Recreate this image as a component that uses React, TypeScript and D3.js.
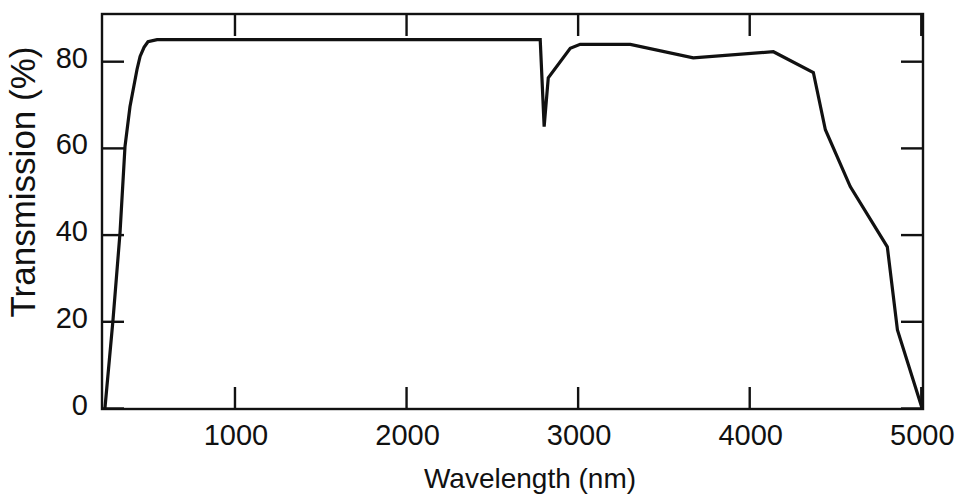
import React from "react";
import * as d3 from "d3";

const wavelength = [242, 289, 330, 359, 388, 429, 447, 470, 493, 546, 2779, 2802, 2826, 2954, 3012, 3304, 3671, 4138, 4371, 4441, 4586, 4802, 4861, 5005];
const transmission = [0, 20.4, 40.5, 60.4, 69.6, 78.2, 81.2, 83.3, 84.6, 85.1, 85.1, 65, 76.3, 83.1, 84, 84, 80.9, 82.3, 77.5, 64.3, 51.2, 37.3, 18.1, 0];
const xTicks = [1000, 2000, 3000, 4000, 5000];
const yTicks = [0, 20, 40, 60, 80];
const xTitle = "Wavelength (nm)";
const yTitle = "Transmission (%)";

const W = 960;
const H = 496;
const left = 102;
const right = 923;
const top = 14;
const bottom = 409;

export default function App() {
  const x = d3.scaleLinear().domain([225, 5010]).range([left, right]);
  const y = d3.scaleLinear().domain([0, 91]).range([408.5, top]);
  const data = wavelength.map((w, i) => [w, transmission[i]] as [number, number]);
  const line = d3
    .line<[number, number]>()
    .x((d) => x(d[0]))
    .y((d) => y(d[1]));
  const font = "'Liberation Sans', Arial, Helvetica, sans-serif";
  const tickLen = 22;
  const ink = "#111";
  return (
    <svg
      width={W}
      height={H}
      style={{ position: "absolute", left: 0, top: 0, background: "#fff" }}
      fontFamily={font}
    >
      <rect x={0} y={0} width={W} height={H} fill="#fff" />
      <path d={line(data) || ""} fill="none" stroke={ink} strokeWidth={3.2} strokeLinejoin="miter" />
      <rect
        x={left}
        y={top}
        width={right - left}
        height={bottom - top}
        fill="none"
        stroke={ink}
        strokeWidth={2.4}
      />
      {xTicks.map((t) => (
        <g key={"x" + t}>
          <line x1={x(t)} x2={x(t)} y1={bottom} y2={bottom - tickLen} stroke={ink} strokeWidth={2.4} />
          <line x1={x(t)} x2={x(t)} y1={top} y2={top + tickLen} stroke={ink} strokeWidth={2.4} />
          <text x={x(t) + 1} y={445} textAnchor="middle" fontSize={29} fill={ink}>
            {t}
          </text>
        </g>
      ))}
      {yTicks.map((t) => (
        <g key={"y" + t}>
          <line x1={left} x2={left + tickLen} y1={y(t)} y2={y(t)} stroke={ink} strokeWidth={2.4} />
          <line x1={right} x2={right - tickLen} y1={y(t)} y2={y(t)} stroke={ink} strokeWidth={2.4} />
          <text x={88} y={y(t) + 6} textAnchor="end" fontSize={29} fill={ink}>
            {t}
          </text>
        </g>
      ))}
      <text x={530} y={488} textAnchor="middle" fontSize={28} fill={ink}>
        {xTitle}
      </text>
      <text
        transform={`translate(35,182) rotate(-90)`}
        textAnchor="middle"
        fontSize={35}
        fill={ink}
      >
        {yTitle}
      </text>
    </svg>
  );
}
